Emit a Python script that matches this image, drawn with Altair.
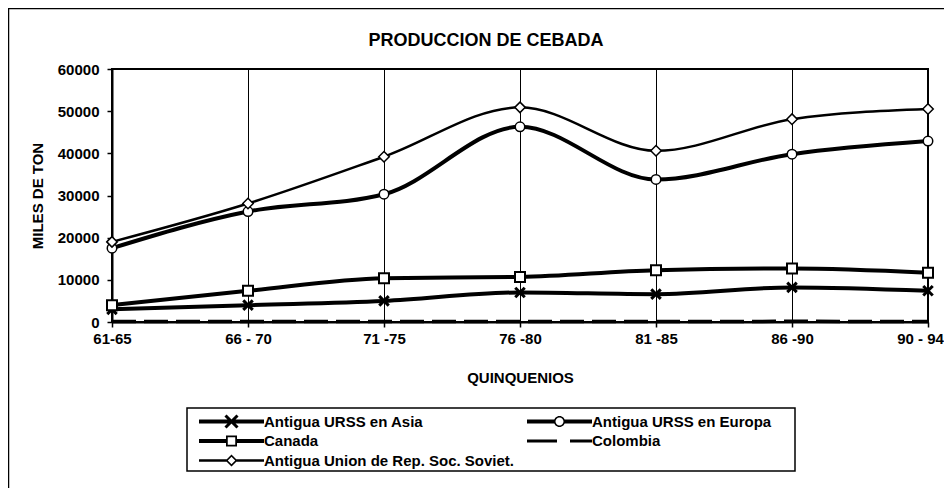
import altair as alt
import pandas as pd

chart_title = "PRODUCCION DE CEBADA"
periods = ["61-65", "66 - 70", "71 -75", "76 -80", "81 -85", "86 -90", "90 - 94"]
asia = [3000, 4000, 5000, 7000, 6600, 8200, 7400]
europa = [17500, 26200, 30300, 46300, 33800, 39800, 42900]
canada = [4000, 7400, 10400, 10700, 12300, 12700, 11700]
colombia = [120, 110, 100, 110, 120, 150, 130]
urss = [19000, 28100, 39200, 50900, 40600, 48100, 50500]

series_names = ["Antigua URSS en Asia", "Antigua URSS en Europa", "Canada",
                "Colombia", "Antigua Union de Rep. Soc. Soviet."]
series_values = [asia, europa, canada, colombia, urss]
line_widths = [4, 4, 4, 3.5, 2.5]
marker_shapes = ["M-1,-1L1,1M-1,1L1,-1", "circle", "square", None, "diamond"]
marker_sizes = [90, 90, 100, 0, 110]
marker_strokes = [3, 1.5, 2, 0, 1.5]

rows = []
for name, vals, lw in zip(series_names, series_values, line_widths):
    for p, v in zip(periods, vals):
        rows.append({"serie": name, "periodo": p, "valor": v, "lw": lw})
df = pd.DataFrame(rows)
df["sz"] = df["serie"].map(dict(zip(series_names, marker_sizes)))
df["sw"] = df["serie"].map(dict(zip(series_names, marker_strokes)))

FONT = "Liberation Sans"


# ---- legend symbols drawn as filled paths (unit = 5px) ----
def f(v):
    return f"{v:.3f}".rstrip("0").rstrip(".")


def rect(x0, x1, h):
    return f"M{f(x0)},{f(-h)}H{f(x1)}V{f(h)}H{f(x0)}Z"


W = 6.5
sym_asia = (rect(-W, W, 0.4)
            + "M-0.988,-1.412L1.412,0.988L0.988,1.412L-1.412,-0.988Z"
            + "M-1.412,0.988L0.988,-1.412L1.412,-0.988L-0.988,1.412Z")
sym_europa = (rect(-W, -1.0, 0.4) + rect(1.0, W, 0.4)
              + "M1.1,0A1.1,1.1 0 1,1 -1.1,0A1.1,1.1 0 1,1 1.1,0Z"
              + "M0.8,0A0.8,0.8 0 1,0 -0.8,0A0.8,0.8 0 1,0 0.8,0Z")
sym_canada = (rect(-W, -1.0, 0.4) + rect(1.0, W, 0.4)
              + "M-1.1,-1.1H1.1V1.1H-1.1Z"
              + "M-0.75,-0.75V0.75H0.75V-0.75Z")
sym_colombia = rect(-W, -0.5, 0.3) + rect(2.1, W, 0.3)
sym_urss = (rect(-W, -1.0, 0.25) + rect(1.0, W, 0.25)
            + "M0,-1.2L1.2,0L0,1.2L-1.2,0Z"
            + "M0,-0.75L-0.75,0L0,0.75L0.75,0Z")

leg1_names = [series_names[0], series_names[2], series_names[4]]
leg1_syms = [sym_asia, sym_canada, sym_urss]
leg2_names = [series_names[1], series_names[3]]
leg2_syms = [sym_europa, sym_colombia]

x_enc = alt.X("periodo:N", sort=periods, title="QUINQUENIOS",
              scale=alt.Scale(type="point", padding=0),
              axis=alt.Axis(labelOffset={"condition": {"test": "datum.label == '90 - 94'",
                                                       "value": -8}, "value": 0}))
y_enc = alt.Y("valor:Q", title="MILES DE TON",
              scale=alt.Scale(domain=[0, 60000]),
              axis=alt.Axis(values=[0, 10000, 20000, 30000, 40000, 50000, 60000], format="d"))

base = alt.Chart(df)

lines = base.transform_filter(alt.datum.serie != "Colombia").mark_line(
    color="black", interpolate="monotone").encode(
    x=x_enc, y=y_enc, detail="serie:N",
    strokeWidth=alt.StrokeWidth("lw:Q", scale=None),
)
col_line = base.transform_filter(alt.datum.serie == "Colombia").mark_line(
    color="black", strokeWidth=3.5, strokeDash=[24, 8], interpolate="monotone").encode(
    x=x_enc, y=y_enc)

pts_names = [n for n, s in zip(series_names, marker_shapes) if s]
pts_shapes = [s for s in marker_shapes if s]
points = base.transform_filter(alt.datum.serie != "Colombia").mark_point(
    filled=True, fill="white", stroke="black", opacity=1).encode(
    x=x_enc, y=y_enc,
    shape=alt.Shape("serie:N", scale=alt.Scale(domain=pts_names, range=pts_shapes), legend=None),
    size=alt.Size("sz:Q", scale=None),
    strokeWidth=alt.StrokeWidth("sw:Q", scale=None),
)


def legend_layer(names, syms, lx, ly):
    return base.transform_filter(
        alt.FieldOneOfPredicate(field="serie", oneOf=names)).mark_point(
        filled=True, color="black", opacity=0, size=100).encode(
        shape=alt.Shape("serie:N", scale=alt.Scale(domain=names, range=syms),
                        legend=alt.Legend(
                            title=None, orient="none", legendX=lx, legendY=ly,
                            symbolSize=100, symbolOpacity=1, symbolFillColor="black",
                            symbolStrokeWidth=0, symbolStrokeColor="black",
                            symbolOffset=27, labelOffset=25, rowPadding=3.5,
                            labelFont=FONT, labelFontSize=15, labelFontWeight="bold",
                            labelColor="black", labelLimit=400)))


leg1 = legend_layer(leg1_names, leg1_syms, 85, 345)
leg2 = legend_layer(leg2_names, leg2_syms, 413, 345)

one = pd.DataFrame({"k": [0]})
title_text = alt.Chart(one).mark_text(
    text=chart_title, font=FONT, fontSize=18, fontWeight="bold", color="black",
    align="center", baseline="middle").encode(x=alt.value(374), y=alt.value(-28))
legend_box = alt.Chart(one).mark_rect(
    filled=False, stroke="black", strokeWidth=1.5).encode(
    x=alt.value(75), x2=alt.value(683), y=alt.value(339), y2=alt.value(402))
frame_left = alt.Chart(one).mark_rule(
    color="black", strokeWidth=1.5).encode(
    x=alt.value(-103.5), y=alt.value(-61), y2=alt.value(420))
frame_top = alt.Chart(one).mark_rule(
    color="black", strokeWidth=1.5).encode(
    y=alt.value(-60.5), x=alt.value(-104), x2=alt.value(832))

chart = alt.layer(frame_left, frame_top, title_text, legend_box, col_line, lines, points,
                  leg1, leg2).resolve_scale(
    shape="independent").properties(
    width=816, height=253,
    padding={"left": 104, "top": 61, "right": 16, "bottom": 166},
    autosize=alt.AutoSizeParams(type="none"),
    background="white",
).configure_view(stroke="black", strokeWidth=2).configure_axis(
    labelFont=FONT, labelFontSize=15, labelFontWeight="bold", labelColor="black",
    titleFont=FONT, titleFontSize=15, titleFontWeight="bold", titleColor="black",
    domainColor="black", domainWidth=2, tickColor="black", tickSize=5, tickWidth=1.5,
).configure_axisX(
    grid=True, gridColor="black", gridWidth=1, gridOpacity=1, labelAngle=0,
    labelPadding=4, titlePadding=24,
).configure_axisY(
    grid=False, labelPadding=8, titlePadding=12,
)

chart.save("out.html", embed_options={"renderer": "svg", "actions": False})
